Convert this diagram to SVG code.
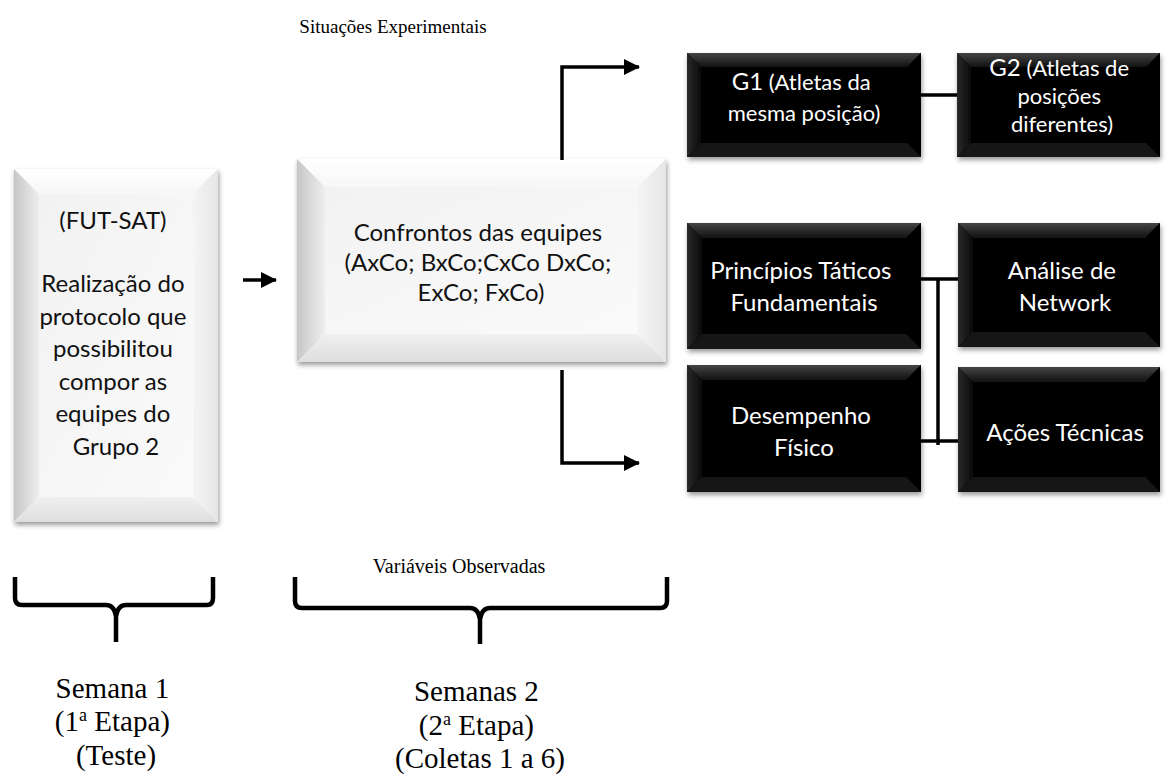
<svg xmlns="http://www.w3.org/2000/svg" width="1175" height="781" viewBox="0 0 1175 781">
<style>
.sans{font-family:Lato,"Open Sans","Liberation Sans",sans-serif;text-anchor:middle}
.dk{fill:#111}
.wt{fill:#fff}
.serif{font-family:"Liberation Serif","Times New Roman",serif;fill:#000;text-anchor:middle}
.conn{stroke:#000;stroke-width:3.5;fill:none}
.brace{stroke:#000;stroke-width:4.5;fill:none;stroke-linejoin:round}
.lt-base{fill:#f4f4f4}
.lt-top{fill:url(#ltTop)}
.lt-left{fill:url(#ltLeft)}
.lt-bot{fill:url(#ltBot)}
.lt-right{fill:url(#ltRight)}
.lt-in{fill:url(#ltIn)}
.bk-top{fill:url(#bkTop)}
.bk-left{fill:url(#bkLeft)}
.bk-bot{fill:#151515}
.bk-right{fill:#060606}
.bk-in{fill:#000}
</style>
<defs>
<filter id="sh" x="-10%" y="-10%" width="125%" height="125%">
<feDropShadow dx="1" dy="3" stdDeviation="2.5" flood-color="#000" flood-opacity="0.4"/>
</filter>
<linearGradient id="ltTop" x1="0" y1="0" x2="0" y2="1"><stop offset="0" stop-color="#ffffff"/><stop offset="1" stop-color="#f7f7f7"/></linearGradient>
<linearGradient id="ltLeft" x1="0" y1="0" x2="1" y2="0"><stop offset="0" stop-color="#c6c6c6"/><stop offset="1" stop-color="#eeeeee"/></linearGradient>
<linearGradient id="ltBot" x1="0" y1="0" x2="0" y2="1"><stop offset="0" stop-color="#f0f0f0"/><stop offset="1" stop-color="#dedede"/></linearGradient>
<linearGradient id="ltRight" x1="0" y1="0" x2="1" y2="0"><stop offset="0" stop-color="#f4f4f4"/><stop offset="1" stop-color="#e6e6e6"/></linearGradient>
<linearGradient id="ltIn" x1="0" y1="0" x2="1" y2="1"><stop offset="0" stop-color="#f2f2f2"/><stop offset="1" stop-color="#fafafa"/></linearGradient>
<linearGradient id="bkTop" x1="0" y1="0" x2="0" y2="1"><stop offset="0" stop-color="#444"/><stop offset="1" stop-color="#111"/></linearGradient>
<linearGradient id="bkLeft" x1="0" y1="0" x2="1" y2="0"><stop offset="0" stop-color="#2a2a2a"/><stop offset="1" stop-color="#0a0a0a"/></linearGradient>
<marker id="ah" viewBox="0 0 16 16" refX="15" refY="8" markerWidth="16" markerHeight="16" markerUnits="userSpaceOnUse" orient="auto">
<path d="M0,0 L16,8 L0,16 Z" fill="#000"/>
</marker>
</defs>

<!-- Left node -->
<g id="node-futsat">
<g filter="url(#sh)">
<rect class="lt-base" x="14" y="169" width="204" height="353"/>
<polygon class="lt-top" points="14,169 218,169 193,194 39,194"/>
<polygon class="lt-left" points="14,169 39,194 39,497 14,522"/>
<polygon class="lt-bot" points="14,522 39,497 193,497 218,522"/>
<polygon class="lt-right" points="218,169 218,522 193,497 193,194"/>
<rect class="lt-in" x="39" y="194" width="154" height="303"/>
</g>
<text class="sans dk" font-size="24">
<tspan x="116" y="229">(FUT-SAT)</tspan>
<tspan x="116" y="292">Realização do</tspan>
<tspan x="116" y="324.5">protocolo que</tspan>
<tspan x="116" y="357">possibilitou</tspan>
<tspan x="116" y="389.5">compor as</tspan>
<tspan x="116" y="422">equipes do</tspan>
<tspan x="116" y="454.5">Grupo 2</tspan>
</text>
</g>

<!-- Middle node -->
<g id="node-confrontos">
<g filter="url(#sh)">
<rect class="lt-base" x="297" y="159" width="369" height="203"/>
<polygon class="lt-top" points="297,159 666,159 638,187 325,187"/>
<polygon class="lt-left" points="297,159 325,187 325,334 297,362"/>
<polygon class="lt-bot" points="297,362 325,334 638,334 666,362"/>
<polygon class="lt-right" points="666,159 666,362 638,334 638,187"/>
<rect class="lt-in" x="325" y="187" width="313" height="147"/>
</g>
<text class="sans dk" font-size="24">
<tspan x="481" y="240.5">Confrontos das equipes</tspan>
<tspan x="481" y="270.5">(AxCo; BxCo;CxCo DxCo;</tspan>
<tspan x="481" y="300.5">ExCo; FxCo)</tspan>
</text>
</g>

<!-- Black nodes -->
<g id="node-g1">
<g filter="url(#sh)">
<rect class="bk-in" x="687" y="53" width="234" height="104"/>
<polygon class="bk-top" points="687,53 921,53 907,67 701,67"/>
<polygon class="bk-left" points="687,53 701,67 701,143 687,157"/>
<polygon class="bk-bot" points="687,157 701,143 907,143 921,157"/>
<polygon class="bk-right" points="921,53 921,157 907,143 907,67"/>
</g>
<text class="sans wt" font-size="22">
<tspan x="804" y="90"><tspan font-size="24">G1</tspan> (Atletas da</tspan>
<tspan x="804" y="121">mesma posição)</tspan>
</text>
</g>

<g id="node-g2">
<g filter="url(#sh)">
<rect class="bk-in" x="957" y="53" width="203" height="104"/>
<polygon class="bk-top" points="957,53 1160,53 1146,67 971,67"/>
<polygon class="bk-left" points="957,53 971,67 971,143 957,157"/>
<polygon class="bk-bot" points="957,157 971,143 1146,143 1160,157"/>
<polygon class="bk-right" points="1160,53 1160,157 1146,143 1146,67"/>
</g>
<text class="sans wt" font-size="22">
<tspan x="1062" y="76"><tspan font-size="24">G2</tspan> (Atletas de</tspan>
<tspan x="1062" y="104">posições</tspan>
<tspan x="1062" y="132">diferentes)</tspan>
</text>
</g>

<g id="node-principios">
<g filter="url(#sh)">
<rect class="bk-in" x="687" y="223" width="234" height="126"/>
<polygon class="bk-top" points="687,223 921,223 906,238 702,238"/>
<polygon class="bk-left" points="687,223 702,238 702,334 687,349"/>
<polygon class="bk-bot" points="687,349 702,334 906,334 921,349"/>
<polygon class="bk-right" points="921,223 921,349 906,334 906,238"/>
</g>
<text class="sans wt" font-size="24">
<tspan x="804" y="278.5">Princípios Táticos</tspan>
<tspan x="804" y="310.5">Fundamentais</tspan>
</text>
</g>

<g id="node-analise">
<g filter="url(#sh)">
<rect class="bk-in" x="958" y="223" width="202" height="124"/>
<polygon class="bk-top" points="958,223 1160,223 1145,238 973,238"/>
<polygon class="bk-left" points="958,223 973,238 973,332 958,347"/>
<polygon class="bk-bot" points="958,347 973,332 1145,332 1160,347"/>
<polygon class="bk-right" points="1160,223 1160,347 1145,332 1145,238"/>
</g>
<text class="sans wt" font-size="24">
<tspan x="1065" y="278.5">Análise de</tspan>
<tspan x="1065" y="310.5">Network</tspan>
</text>
</g>

<g id="node-desempenho">
<g filter="url(#sh)">
<rect class="bk-in" x="687" y="365" width="234" height="127"/>
<polygon class="bk-top" points="687,365 921,365 906,380 702,380"/>
<polygon class="bk-left" points="687,365 702,380 702,477 687,492"/>
<polygon class="bk-bot" points="687,492 702,477 906,477 921,492"/>
<polygon class="bk-right" points="921,365 921,492 906,477 906,380"/>
</g>
<text class="sans wt" font-size="24">
<tspan x="804" y="423.5">Desempenho</tspan>
<tspan x="804" y="455.5">Físico</tspan>
</text>
</g>

<g id="node-acoes">
<g filter="url(#sh)">
<rect class="bk-in" x="958" y="367" width="202" height="125"/>
<polygon class="bk-top" points="958,367 1160,367 1145,382 973,382"/>
<polygon class="bk-left" points="958,367 973,382 973,477 958,492"/>
<polygon class="bk-bot" points="958,492 973,477 1145,477 1160,492"/>
<polygon class="bk-right" points="1160,367 1160,492 1145,477 1145,382"/>
</g>
<text class="sans wt" font-size="24">
<tspan x="1065" y="440.5">Ações Técnicas</tspan>
</text>
</g>

<!-- Connectors -->
<g id="connectors">
<line class="conn" x1="243" y1="280" x2="276" y2="280" stroke-width="4" marker-end="url(#ah)"/>
<polyline class="conn" points="562,160 562,67 639,67" marker-end="url(#ah)"/>
<polyline class="conn" points="562,370 562,463 639,463" marker-end="url(#ah)"/>
<line class="conn" x1="921" y1="95" x2="957" y2="95"/>
<line class="conn" x1="921" y1="279" x2="958" y2="279"/>
<line class="conn" x1="921" y1="441" x2="958" y2="441"/>
<line class="conn" x1="938" y1="279" x2="938" y2="445"/>
</g>

<!-- Labels -->
<text class="serif" font-size="19" x="393" y="33">Situações Experimentais</text>
<text class="serif" font-size="20" x="459" y="573">Variáveis Observadas</text>

<!-- Braces -->
<path class="brace" d="M15,577 L15,598 Q15,605 22,605 L106,605 Q114,605 116,616 L116,642 M116,642 L116,616 Q118,605 126,605 L207,605 Q213,605 213,598 L213,577"/>
<path class="brace" d="M295,577 L295,601 Q295,608 302,608 L470,608 Q478,608 480,619 L480,644 M480,644 L480,619 Q482,608 490,608 L660,608 Q667,608 667,601 L667,577"/>

<text class="serif" font-size="29">
<tspan x="116" y="698">Semana 1</tspan>
<tspan x="116" y="731">(1<tspan font-size="18" dy="-10">a</tspan><tspan dy="10"> Etapa)</tspan></tspan>
<tspan x="116" y="765">(Teste)</tspan>
</text>
<text class="serif" font-size="29">
<tspan x="480" y="701">Semanas 2</tspan>
<tspan x="480" y="735">(2<tspan font-size="18" dy="-10">a</tspan><tspan dy="10"> Etapa)</tspan></tspan>
<tspan x="480" y="768">(Coletas 1 a 6)</tspan>
</text>
</svg>
